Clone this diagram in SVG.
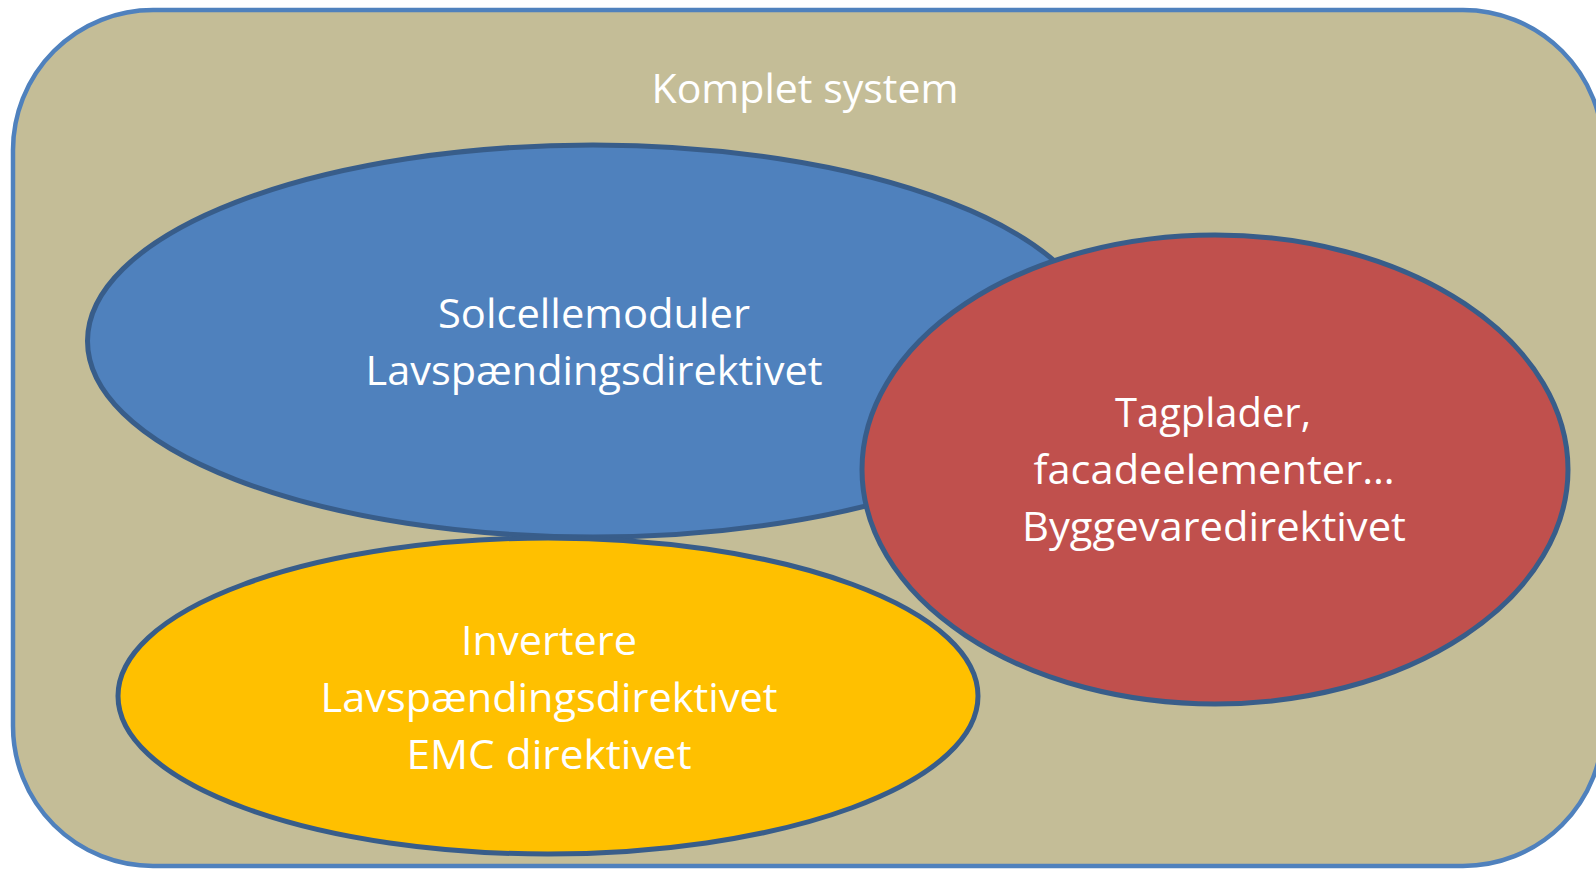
<svg xmlns="http://www.w3.org/2000/svg" width="1596" height="869" viewBox="0 0 1596 869">
  <style>
    .set { stroke: #385d8a; stroke-width: 5; }
    .lbl { font-family: "Open Sans", "Noto Sans", "Liberation Sans", sans-serif; font-size: 40px; fill: #ffffff; text-anchor: middle; }
  </style>
  <rect width="1596" height="869" fill="#ffffff"/>

  <!-- outer container: the complete system -->
  <g id="komplet-system">
    <rect x="13" y="10" width="1590" height="856" rx="140" ry="140" fill="#c4bd97" stroke="#4f81bd" stroke-width="4.5"/>
    <text class="lbl" x="805" y="103" textLength="307" lengthAdjust="spacingAndGlyphs">Komplet system</text>
  </g>

  <!-- solar modules -->
  <g id="solcellemoduler">
    <ellipse class="set" cx="593" cy="341" rx="505.5" ry="196" fill="#4f81bd"/>
    <text class="lbl" x="594" y="328" textLength="312" lengthAdjust="spacingAndGlyphs">Solcellemoduler</text>
    <text class="lbl" x="594" y="385" textLength="457" lengthAdjust="spacingAndGlyphs">Lavspændingsdirektivet</text>
  </g>

  <!-- inverters -->
  <g id="invertere">
    <ellipse class="set" cx="548" cy="696" rx="430" ry="158" fill="#ffc000"/>
    <text class="lbl" x="549" y="655" textLength="176" lengthAdjust="spacingAndGlyphs">Invertere</text>
    <text class="lbl" x="549" y="712" textLength="457" lengthAdjust="spacingAndGlyphs">Lavspændingsdirektivet</text>
    <text class="lbl" x="549" y="769" textLength="285" lengthAdjust="spacingAndGlyphs">EMC direktivet</text>
  </g>

  <!-- roof and facade elements -->
  <g id="tagplader">
    <ellipse class="set" cx="1215" cy="469.5" rx="353" ry="234.5" fill="#c0504d"/>
    <text class="lbl" x="1213" y="427" textLength="196" lengthAdjust="spacingAndGlyphs">Tagplader,</text>
    <text class="lbl" x="1214" y="484" textLength="361" lengthAdjust="spacingAndGlyphs">facadeelementer…</text>
    <text class="lbl" x="1214" y="541" textLength="384" lengthAdjust="spacingAndGlyphs">Byggevaredirektivet</text>
  </g>

  <g id="connectors"/>
</svg>
